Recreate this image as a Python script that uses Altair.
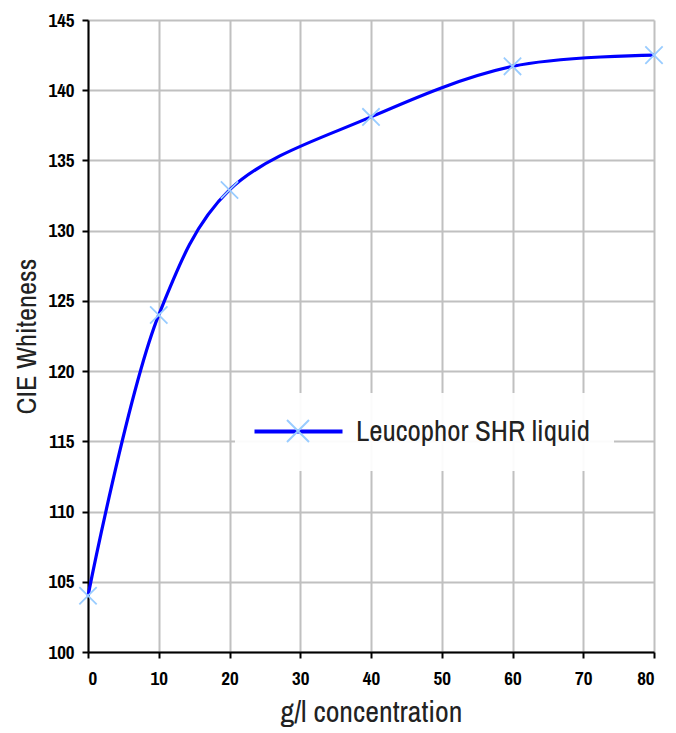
import altair as alt
import pandas as pd

conc = [0, 10, 20, 40, 60, 80]
whiteness = [104.0, 124.0, 132.9, 138.1, 141.7, 142.5]
series_name = "Leucophor SHR liquid"

x_ticks = [0, 10, 20, 30, 40, 50, 60, 70, 80]
y_ticks = [100, 105, 110, 115, 120, 125, 130, 135, 140, 145]

df = pd.DataFrame({"conc": conc, "white": whiteness,
                   "Series": [series_name] * len(conc),
                   "Marker": ["m"] * len(conc)})

FONT = "Archivo Narrow, PT Sans Narrow, Roboto Condensed, sans-serif"
XPATH = "M-1,-1L1,1M-1,1L1,-1"

x_enc = alt.X("conc:Q",
              scale=alt.Scale(domain=[0, 80], nice=False, zero=False),
              axis=alt.Axis(values=x_ticks, title="g/l concentration",
                            labelPadding=11, titlePadding=9))
y_enc = alt.Y("white:Q",
              scale=alt.Scale(domain=[100, 145], nice=False, zero=False),
              axis=alt.Axis(values=y_ticks, title="CIE Whiteness",
                            labelPadding=8, titlePadding=7, titleFontSize=28.5))

line = alt.Chart(df).mark_line(interpolate="catmull-rom", strokeWidth=3.2).encode(
    x=x_enc, y=y_enc,
    color=alt.Color("Series:N", scale=alt.Scale(range=["#0000ff"]),
                    legend=alt.Legend(
                        title=None, orient="none", legendX=147, legendY=373,
                        padding=24, fillColor="rgba(255,255,255,0.93)",
                        symbolType="M-4,0L4,0", symbolSize=484,
                        symbolStrokeWidth=4, symbolStrokeColor="#0000ff",
                        symbolOffset=25, labelOffset=43,
                        labelFont=FONT, labelFontSize=29, labelColor="#222222",
                        labelLimit=400, zindex=1)),
)

points = alt.Chart(df).mark_point(filled=False, size=300, strokeWidth=1.8,
                                  color="#99ccff", opacity=1).encode(
    x=x_enc, y=y_enc,
    shape=alt.Shape("Marker:N", scale=alt.Scale(range=[XPATH]),
                    legend=alt.Legend(
                        title=None, orient="none", legendX=198, legendY=399,
                        padding=0, symbolSize=484, symbolStrokeWidth=2,
                        symbolStrokeColor="#99ccff", symbolFillColor="transparent",
                        labelExpr="''", labelFontSize=1, labelOffset=0,
                        zindex=2)),
)

chart = (line + points).properties(
    width=566, height=632,
    padding={"left": 4, "top": 3, "right": 0, "bottom": 2},
).configure_view(strokeWidth=0).configure_axis(
    labelFont=FONT, labelFontSize=19, labelFontWeight="bold", labelColor="#000000",
    titleFont=FONT, titleFontSize=30, titleFontWeight="normal", titleColor="#222222",
    tickColor="#000000", tickWidth=2, tickSize=6,
    domainColor="#000000", domainWidth=2,
    gridColor="#c0c0c0", gridWidth=2, gridOpacity=1,
).configure_legend(labelFont=FONT)

chart.save("out.html", embed_options={"renderer": "svg", "actions": False})
